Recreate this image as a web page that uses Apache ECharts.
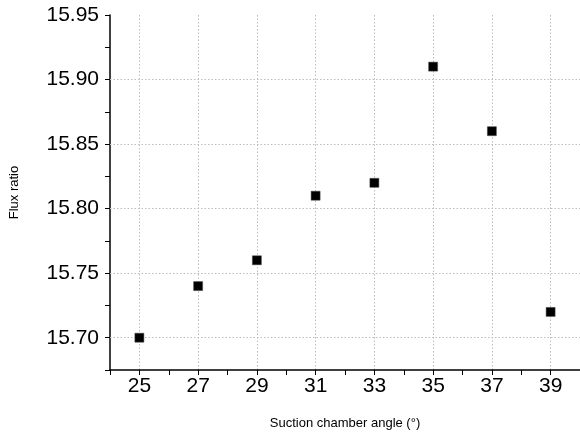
<!DOCTYPE html>
<html>
<head>
<meta charset="utf-8">
<script src="https://cdn.jsdelivr.net/npm/echarts@6/dist/echarts.min.js"></script>
<style>
  html, body { margin: 0; padding: 0; background: #fff; }
  #chart-container { width: 580px; height: 437px; }
</style>
</head>
<body>
<div id="chart-container"></div>
<script>
// x positions 24..40, labels only on odd angles
const angles = ['24', '25', '26', '27', '28', '29', '30', '31', '32', '33', '34', '35', '36', '37', '38', '39', '40'];
const measuredAngles = ['25', '27', '29', '31', '33', '35', '37', '39'];
const fluxRatio = [15.70, 15.74, 15.76, 15.81, 15.82, 15.91, 15.86, 15.72];
// horizontal grid lines
const yGridValues = [15.70, 15.75, 15.80, 15.85, 15.90];

(function () {
    const myChart = echarts.init(document.getElementById('chart-container'));
    const font = 'Liberation Sans, Arial, sans-serif';
    const isOdd = (idx) => Number(angles[idx]) % 2 === 1;
    const gridStyle = { color: '#bdbdbd', type: [1.5, 2], width: 1 };

    const option = {
        animation: false,
        grid: { left: 110, right: 0, top: 15, bottom: 67, outerBoundsMode: 'none', containLabel: false },
        xAxis: {
            type: 'category',
            data: angles,
            boundaryGap: false,
            name: 'Suction chamber angle (°)',
            nameLocation: 'middle',
            nameGap: 47,
            nameTextStyle: { fontFamily: font, fontSize: 13, color: '#000' },
            axisLine: { lineStyle: { color: '#000', width: 1.5 } },
            axisTick: { show: true, interval: 0, length: 5, lineStyle: { color: '#000' } },
            axisLabel: {
                interval: (idx) => isOdd(idx),
                fontFamily: font, fontSize: 21, color: '#000', margin: 6
            },
            splitLine: {
                show: true,
                interval: (idx) => isOdd(idx),
                lineStyle: gridStyle
            }
        },
        yAxis: {
            type: 'value',
            min: 15.675,
            max: 15.95,
            interval: 0.025,
            name: 'Flux ratio',
            nameLocation: 'middle',
            nameGap: 89,
            nameTextStyle: { fontFamily: font, fontSize: 13, color: '#000' },
            axisLine: { show: true, lineStyle: { color: '#000', width: 1.5 } },
            axisTick: { show: true, length: 5, lineStyle: { color: '#000' } },
            axisLabel: {
                fontFamily: font, fontSize: 21, color: '#000', margin: 11,
                formatter: function (v) {
                    const k = Math.round(v * 1000);
                    return k % 50 === 0 ? v.toFixed(2) : '';
                }
            },
            splitLine: { show: false }
        },
        series: [{
            type: 'scatter',
            symbol: 'rect',
            symbolSize: 9,
            itemStyle: { color: '#000', opacity: 1, borderColor: '#444', borderWidth: 0.5 },
            data: measuredAngles.map((a, i) => [a, fluxRatio[i]]),
            markLine: {
                silent: true,
                symbol: 'none',
                label: { show: false },
                lineStyle: gridStyle,
                data: yGridValues.map(v => ({ yAxis: v }))
            },
            z: 5
        }]
    };
    myChart.setOption(option);
})();
</script>
</body>
</html>
